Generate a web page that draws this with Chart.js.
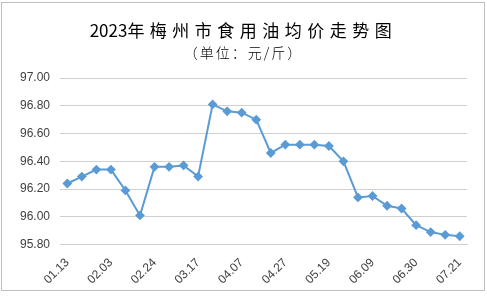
<!DOCTYPE html>
<html>
<head>
<meta charset="utf-8">
<script src="https://cdn.jsdelivr.net/npm/chart.js@4"></script>
<style>
  body { margin: 0; background: #fff; }
  #wrap { position: relative; width: 487px; height: 297px; }
  #frame { position: absolute; left: 1px; top: 2px; width: 482px; height: 287px; border: 1px solid #bfbfbf; }
  #title { position: absolute; left: 0; top: 18px; width: 487px; text-align: center;
           font-family: "Noto Sans CJK SC", sans-serif; font-size: 17px; font-weight: 400; color: #000; line-height: 24px; }
  #title .cn { letter-spacing: 5.5px; }
  #sub { position: absolute; left: 0; top: 42px; width: 487px; text-align: center;
         font-family: "Noto Sans CJK SC", sans-serif; font-size: 14px; font-weight: 300; color: #000; line-height: 20px; letter-spacing: 2px; }
  canvas { position: absolute; left: 0; top: 0; }
</style>
</head>
<body>
<div id="wrap">
  <div id="frame"></div>
  <canvas id="line-chart" width="487" height="297"></canvas>
  <div id="title"><span>2023</span><span class="cn">年梅州市食用油均价走势图</span></div>
  <div id="sub">（单位：元/斤）</div>
</div>
<script>
var dateData = ['01.13', '01.20', '01.27', '02.03', '02.10', '02.17', '02.24', '03.03', '03.10', '03.17',
                '03.24', '03.31', '04.07', '04.14', '04.21', '04.27', '05.05', '05.12', '05.19', '05.26',
                '06.02', '06.09', '06.16', '06.23', '06.30', '07.07', '07.14', '07.21'];
var priceData = [96.24, 96.29, 96.34, 96.34, 96.19, 96.01, 96.36, 96.36, 96.37, 96.29,
                 96.81, 96.76, 96.75, 96.70, 96.46, 96.52, 96.52, 96.52, 96.51, 96.40,
                 96.14, 96.15, 96.08, 96.06, 95.94, 95.89, 95.87, 95.86];
var yMin = 95.8, yMax = 97.0, yStep = 0.2;

const ctx = document.getElementById('line-chart').getContext('2d');

const chart = new Chart(ctx, {
    type: 'line',
    data: {
        labels: dateData,
        datasets: [
            {
                label: '食用油均价',
                data: priceData,
                borderColor: '#5b9bd5',
                backgroundColor: '#5b9bd5',
                borderWidth: 2,
                pointStyle: 'rectRot',
                pointRadius: 3.5,
                tension: 0
            }
        ]
    },
    options: {
        responsive: false,
        animation: false,
        layout: { padding: { top: 78, left: 10, right: 20, bottom: 7 } },
        plugins: {
            legend: { display: false },
            tooltip: { enabled: false }
        },
        scales: {
            x: {
                offset: true,
                grid: { display: false },
                border: { color: '#d0d0d0' },
                ticks: {
                    autoSkip: false,
                    maxRotation: 45,
                    minRotation: 45,
                    color: '#404040',
                    font: { family: 'Liberation Sans', size: 12 },
                    callback: function (v, i) { return i % 3 === 0 ? dateData[i] : ''; }
                }
            },
            y: {
                min: yMin,
                max: yMax,
                border: { display: false },
                grid: { color: '#d0d0d0', drawTicks: false },
                ticks: {
                    stepSize: yStep,
                    padding: 10,
                    color: '#404040',
                    font: { family: 'Liberation Sans', size: 12 },
                    callback: function (v) { return v.toFixed(2); }
                }
            }
        }
    }
});
</script>
</body>
</html>
